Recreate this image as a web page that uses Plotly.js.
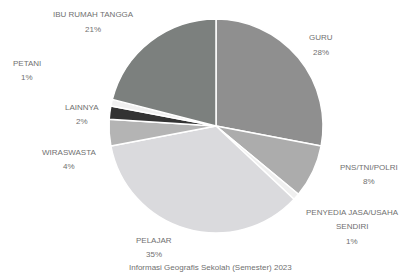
<!DOCTYPE html>
<html>
<head>
<meta charset="utf-8">
<script src="https://cdn.plot.ly/plotly-3.0.1.min.js"></script>
<style>html,body{margin:0;padding:0;background:#fff;}#chart{width:405px;height:274px;}</style>
</head>
<body>
<div id="chart"></div>
<script>
// ---- data ----
const labels = ["GURU", "PNS/TNI/POLRI", "PENYEDIA JASA/USAHA<br>SENDIRI", "PELAJAR", "WIRASWASTA", "LAINNYA", "PETANI", "IBU RUMAH TANGGA"];
const values = [28, 8, 1, 35, 4, 2, 1, 21];
const sliceColors = ["#8f8f8f", "#acacac", "#efefef", "#dadadd", "#b4b4b4", "#333333", "#f0f0f0", "#7c807e"];
const caption = "Informasi Geografis Sekolah (Semester) 2023";

// ---- layout helpers (label placement, pixel centres) ----
const W = 405, H = 274;
const labelPos = [[321, 38], [369, 167], [352, 212], [154, 240], [69, 152], [82, 107], [27, 63], [93, 15]];
const lineGap = 14.5;

const total = values.reduce((a, b) => a + b, 0);
const annotations = [];
labels.forEach((lab, i) => {
  const lines = lab.split("<br>").concat([Math.round(values[i] / total * 100) + "%"]);
  lines.forEach((ln, j) => {
    annotations.push({
      text: ln, showarrow: false, xref: "paper", yref: "paper",
      x: labelPos[i][0] / W, y: 1 - (labelPos[i][1] + j * lineGap) / H,
      xanchor: "center", yanchor: "middle",
      font: {family: "Liberation Sans, Arial, sans-serif", size: 8, color: "#707070"}
    });
  });
});
annotations.push({
  text: caption, showarrow: false, xref: "paper", yref: "paper",
  x: 210 / W, y: 1 - 267 / H, xanchor: "center", yanchor: "middle",
  font: {family: "Liberation Sans, Arial, sans-serif", size: 8, color: "#707070"}
});

const trace = {
  type: "pie",
  labels: labels,
  values: values,
  sort: false,
  direction: "clockwise",
  rotation: 0,
  textinfo: "none",
  hoverinfo: "label+percent",
  marker: {colors: sliceColors, line: {color: "#ffffff", width: 1.5}},
  domain: {x: [109 / W, 323 / W], y: [1 - 233 / H, 1 - 19 / H]}
};

Plotly.newPlot("chart", [trace], {
  width: W, height: H,
  margin: {l: 0, r: 0, t: 0, b: 0},
  showlegend: false,
  paper_bgcolor: "#ffffff",
  annotations: annotations
}, {displayModeBar: false, staticPlot: true});
</script>
</body>
</html>
